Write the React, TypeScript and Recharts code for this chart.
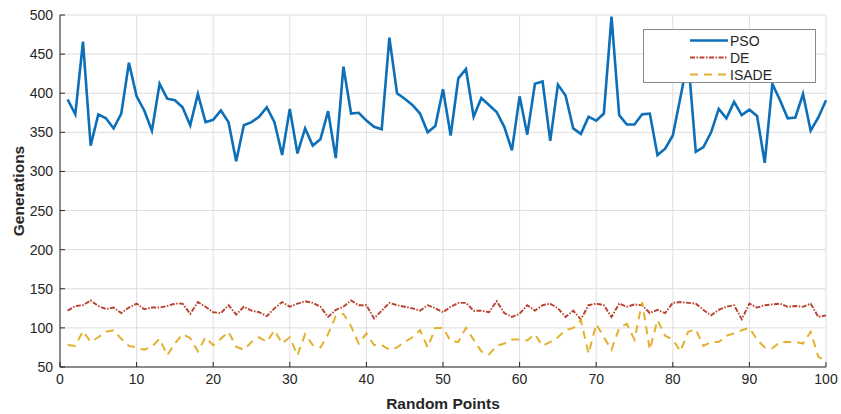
import React from 'react';
import { LineChart, Line, XAxis, YAxis, CartesianGrid, Legend } from 'recharts';

const points = Array.from({ length: 100 }, (_, i) => i + 1);

const pso = [
  392, 373, 466, 333, 373, 368, 355, 374, 439, 396,
  378, 352, 412, 393, 391, 382, 359, 399, 363, 366,
  378, 363, 313, 359, 363, 370, 382, 363, 321, 380,
  323, 355, 333, 341, 377, 317, 434, 374, 375, 365,
  357, 354, 471, 400, 393, 385, 374, 350, 358, 405,
  346, 419, 431, 370, 394, 385, 376, 357, 327, 396,
  347, 412, 415, 339, 411, 397, 355, 348, 370, 365,
  374, 498, 372, 360, 360, 373, 374, 321, 329, 346,
  395, 445, 325, 331, 350, 380, 368, 389, 372, 379,
  371, 311, 412, 391, 368, 369, 399, 352, 369, 391,
];

const de = [
  122, 128, 129, 135, 128, 124, 126, 119, 126, 131,
  124, 126, 126, 128, 131, 131, 118, 133, 127, 120,
  119, 129, 117, 127, 122, 120, 115, 125, 133, 127,
  131, 134, 132, 127, 114, 123, 127, 135, 129, 129,
  112, 122, 132, 129, 127, 125, 122, 129, 125, 120,
  127, 132, 132, 122, 122, 120, 134, 119, 114, 118,
  129, 122, 129, 131, 125, 114, 122, 111, 129, 131,
  129, 114, 131, 127, 130, 129, 119, 123, 119, 132,
  133, 132, 131, 123, 116, 123, 127, 129, 111, 131,
  126, 129, 130, 131, 127, 128, 127, 131, 114, 116,
];

const isade = [
  78, 77, 96, 82, 88, 95, 97, 86, 77, 75,
  72, 76, 86, 65, 80, 92, 87, 70, 88, 78,
  86, 95, 76, 72, 82, 88, 82, 97, 80, 88,
  65, 92, 78, 75, 92, 115, 118, 102, 80, 93,
  78, 78, 72, 75, 82, 88, 97, 75, 100, 100,
  83, 82, 100, 85, 70, 66, 77, 80, 85, 85,
  84, 92, 77, 82, 88, 97, 100, 110, 67, 105,
  88, 72, 100, 105, 85, 133, 72, 110, 90, 85,
  70, 95, 98, 77, 82, 82, 90, 93, 97, 100,
  85, 75, 74, 82, 82, 82, 80, 95, 63, 58,
];

const xTicks = [0, 10, 20, 30, 40, 50, 60, 70, 80, 90, 100];
const yTicks = [50, 100, 150, 200, 250, 300, 350, 400, 450, 500];

const seriesNames = ['PSO', 'DE', 'ISADE'];
const seriesColors = ['#0D6FB8', '#B8422E', '#E3B030'];
const seriesWidths = [2.6, 1.9, 2];
const seriesDashes = [undefined, '5 1.5 1.5 1.5', '8 6'];

const data = points.map((p, i) => ({ x: p, PSO: pso[i], DE: de[i], ISADE: isade[i] }));

const FONT = '"Liberation Sans", Arial, Helvetica, sans-serif';
const AXIS = '#262626';

const LegendBox = () => (
  <div
    style={{
      width: 173,
      height: 54,
      boxSizing: 'border-box',
      border: '1px solid #8a8a8a',
      background: '#fff',
      fontFamily: FONT,
      fontSize: 14,
      color: AXIS,
    }}
  >
    <svg width={171} height={52} style={{ display: 'block' }}>
      {seriesNames.map((name, i) => (
        <g key={name}>
          <line
            x1={46}
            x2={84}
            y1={10.5 + i * 17}
            y2={10.5 + i * 17}
            stroke={seriesColors[i]}
            strokeWidth={seriesWidths[i]}
            strokeDasharray={seriesDashes[i]}
          />
          <text x={86} y={10.5 + i * 17} dominantBaseline="central" fill={AXIS} fontSize={14} fontFamily={FONT}>
            {name}
          </text>
        </g>
      ))}
    </svg>
  </div>
);

export default function App() {
  return (
    <div style={{ position: 'absolute', left: 0, top: 0, width: 841, height: 414, background: '#fff' }}>
      <LineChart width={841} height={414} data={data} margin={{ top: 15, right: 15, bottom: 0, left: 0 }}>
        <CartesianGrid stroke="#dedede" strokeWidth={1} />
        <XAxis
          dataKey="x"
          type="number"
          domain={[0, 100]}
          ticks={xTicks}
          height={47}
          tickSize={-5}
          tickMargin={12}
          axisLine={{ stroke: AXIS }}
          tickLine={{ stroke: AXIS }}
          tick={{ fill: AXIS, fontSize: 14, fontFamily: FONT }}
          label={{
            content: (props: any) => {
              const vb = props.viewBox;
              return (
                <text
                  x={vb.x + vb.width / 2}
                  y={vb.y + 42}
                  textAnchor="middle"
                  fill={AXIS}
                  fontSize={15.5}
                  fontWeight="bold"
                  fontFamily={FONT}
                >
                  Random Points
                </text>
              );
            },
          }}
        />
        <XAxis
          xAxisId="top"
          orientation="top"
          type="number"
          domain={[0, 100]}
          ticks={xTicks}
          height={0}
          tickSize={-5}
          axisLine={{ stroke: AXIS }}
          tickLine={{ stroke: AXIS }}
          tick={false}
        />
        <YAxis
          type="number"
          domain={[50, 500]}
          ticks={yTicks}
          width={60}
          tickSize={-5}
          tickMargin={12}
          axisLine={{ stroke: AXIS }}
          tickLine={{ stroke: AXIS }}
          tick={{ fill: AXIS, fontSize: 14, fontFamily: FONT }}
          label={{
            content: (props: any) => {
              const vb = props.viewBox;
              const cx = vb.x + 18;
              const cy = vb.y + vb.height / 2;
              return (
                <text
                  x={cx}
                  y={cy}
                  transform={`rotate(-90, ${cx}, ${cy})`}
                  textAnchor="middle"
                  dominantBaseline="central"
                  fill={AXIS}
                  fontSize={15.5}
                  fontWeight="bold"
                  fontFamily={FONT}
                >
                  Generations
                </text>
              );
            },
          }}
        />
        <YAxis
          yAxisId="right"
          orientation="right"
          type="number"
          domain={[50, 500]}
          ticks={yTicks}
          width={0}
          tickSize={-5}
          axisLine={{ stroke: AXIS }}
          tickLine={{ stroke: AXIS }}
          tick={false}
        />
        {seriesNames.map((name, i) => (
          <Line
            key={name}
            dataKey={name}
            type="linear"
            stroke={seriesColors[i]}
            strokeWidth={seriesWidths[i]}
            strokeDasharray={seriesDashes[i]}
            dot={false}
            activeDot={false}
            isAnimationActive={false}
          />
        ))}
        <Legend
          layout="vertical"
          align="center"
          verticalAlign="middle"
          content={() => <LegendBox />}
          wrapperStyle={{ position: 'absolute', left: 643, top: 29, width: 173, height: 54 }}
        />
      </LineChart>
    </div>
  );
}
